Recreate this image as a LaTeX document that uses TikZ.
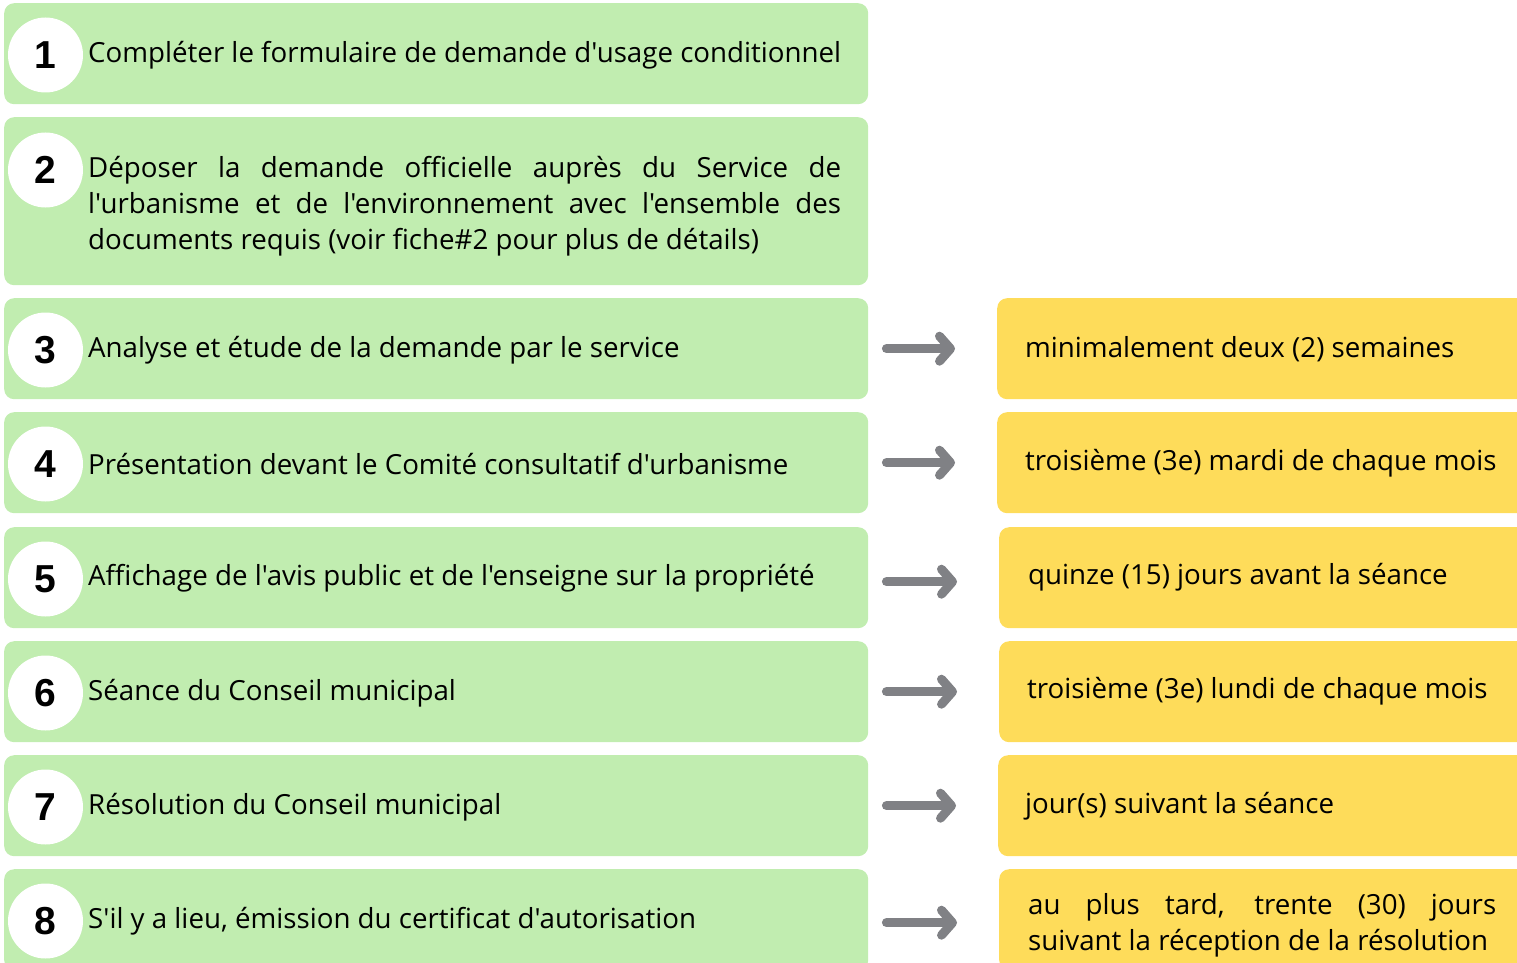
\documentclass[tikz,border=0pt]{standalone}
\usepackage{fontspec}
\setmainfont{Open Sans}[Ligatures=TeXOff]
\newfontfamily\numfont{Liberation Sans}
\usetikzlibrary{arrows.meta}
\definecolor{greenbox}{HTML}{C1EDB0}
\definecolor{yellowbox}{HTML}{FEDC5A}
\definecolor{arrowgray}{HTML}{808185}
\tikzset{
  gbox/.style={fill=greenbox, draw=none, rounded corners=10pt, anchor=north west, minimum width=864pt, minimum height=101pt, inner sep=0pt},
  ybox/.style={fill=yellowbox, draw=none, rounded corners=10pt, anchor=north west, minimum width=560pt, minimum height=101pt, inner sep=0pt},
  numc/.style={circle, fill=white, draw=none, minimum size=75pt, inner sep=0pt, font=\numfont\bfseries\fontsize{39}{39}\selectfont},
  btext/.style={anchor=west, inner sep=0pt, font=\fontsize{27.7}{36}\selectfont, text=black},
  arr/.style={draw=arrowgray, line width=9pt, line cap=round, -{Straight Barb[length=11pt, width=25pt, round]}, shorten <=18pt, shorten >=42pt},
}
\begin{document}
\begin{tikzpicture}[x=1pt,y=-1pt]
\useasboundingbox (0,0) rectangle (1517,963);
\clip (0,0) rectangle (1517,963);
% green boxes
\node[gbox] (g1) at (4,3) {};
\node[gbox, minimum height=168pt] (g2) at (4,117) {};
\node[gbox] (g3) at (4,298) {};
\node[gbox] (g4) at (4,412) {};
\node[gbox] (g5) at (4,527) {};
\node[gbox] (g6) at (4,641) {};
\node[gbox] (g7) at (4,755) {};
\node[gbox] (g8) at (4,869) {};
% number circles
\node[numc] (c1) at (45.5,55) {1};
\node[numc] (c2) at (45.5,170) {2};
\node[numc] (c3) at (45.5,350) {3};
\node[numc] (c4) at (45.5,464) {4};
\node[numc] (c5) at (45.5,579) {5};
\node[numc] (c6) at (45.5,693) {6};
\node[numc] (c7) at (45.5,807) {7};
\node[numc] (c8) at (45.5,921) {8};
% green texts
\node[btext] (t1) at (88,55) {Compléter le formulaire de demande d'usage conditionnel};
\node[btext, text width=753pt, align=justify] (t2) at (88,206) {Déposer la demande officielle auprès du Service de\linebreak l'urbanisme et de l'environnement avec l'ensemble des\linebreak documents requis (voir fiche\#2 pour plus de détails)};
\node[btext] (t3) at (88,350) {Analyse et étude de la demande par le service};
\node[btext] (t4) at (88,464) {Présentation devant le Comité consultatif d'urbanisme};
\node[btext] (t5) at (88,578) {Affichage de l'avis public et de l'enseigne sur la propriété};
\node[btext] (t6) at (88,693) {Séance du Conseil municipal};
\node[btext] (t7) at (88,807) {Résolution du Conseil municipal};
\node[btext] (t8) at (88,921) {S'il y a lieu, émission du certificat d'autorisation};
% yellow boxes
\node[ybox] (y3) at (997,298) {};
\node[ybox] (y4) at (997,412) {};
\node[ybox] (y5) at (999,527) {};
\node[ybox] (y6) at (999,641) {};
\node[ybox] (y7) at (998,755) {};
\node[ybox] (y8) at (999,869) {};
% yellow texts
\node[btext] (u3) at (1025,349) {minimalement deux (2) semaines};
\node[btext] (u4) at (1025,463) {troisième (3e) mardi de chaque mois};
\node[btext] (u5) at (1028,577) {quinze (15) jours avant la séance};
\node[btext] (u6) at (1027,691) {troisième (3e) lundi de chaque mois};
\node[btext] (u7) at (1025,806) {jour(s) suivant la séance};
\node[btext, text width=468pt, align=justify] (u8) at (1028,925) {au plus tard, trente (30) jours\linebreak suivant la réception de la résolution};
% arrows
\draw[arr] (g3.east) -- (y3.west);
\draw[arr] (g4.east) -- (y4.west);
\draw[arr] ([yshift=-4pt]g5.east) -- ([yshift=-4pt]y5.west);
\draw[arr] (g6.east) -- (y6.west);
\draw[arr] (g7.east) -- (y7.west);
\draw[arr] ([yshift=-3pt]g8.east) -- ([yshift=-3pt]y8.west);
\end{tikzpicture}
\end{document}
